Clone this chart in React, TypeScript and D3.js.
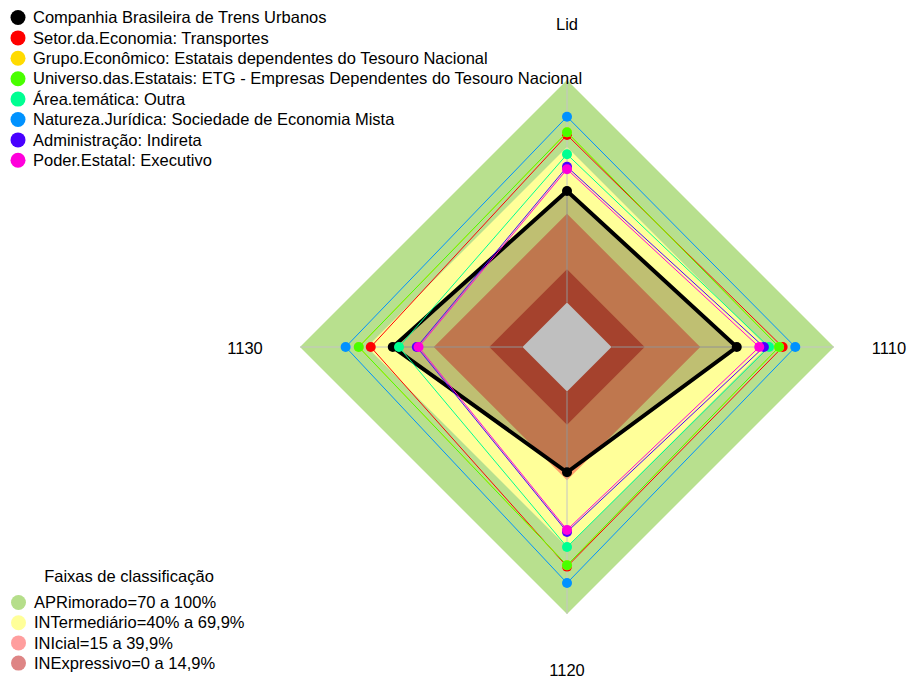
import * as d3 from 'd3';

const WIDTH = 911;
const HEIGHT = 680;
const CX = 567;
const CY = 347;
const RADIUS = 267;
const FONT = '"Liberation Sans", Arial, sans-serif';
const FS = 16.5;

// eixos do radar, sentido horário a partir do topo
const axes = ['Lid', '1110', '1120', '1130'];

const seriesNames = [
  'Companhia Brasileira de Trens Urbanos',
  'Setor.da.Economia: Transportes',
  'Grupo.Econômico: Estatais dependentes do Tesouro Nacional',
  'Universo.das.Estatais: ETG - Empresas Dependentes do Tesouro Nacional',
  'Área.temática: Outra',
  'Natureza.Jurídica: Sociedade de Economia Mista',
  'Administração: Indireta',
  'Poder.Estatal: Executivo',
];
const seriesColors = ['#000000', '#FF0000', '#FFDB00', '#49FF00', '#00FF92', '#0092FF', '#4900FF', '#FF00DB'];

// valores (%) por eixo: Lid, 1110, 1120, 1130
const cbtu = [50.1, 56.3, 36.3, 58.3];
const transportes = [75.3, 76.9, 78.7, 68.2];
const grupoEconomico = [76.5, 75.3, 78.1, 73.6];
const universoEstatais = [76.5, 75.3, 78.1, 73.6];
const areaTematica = [66.6, 70.8, 69.9, 55.5];
const naturezaJuridica = [83.5, 82.6, 86.1, 79.5];
const administracao = [61.0, 68.5, 63.1, 47.5];
const poderEstatal = [59.9, 66.4, 62.2, 46.7];
const seriesValues = [cbtu, transportes, grupoEconomico, universoEstatais, areaTematica, naturezaJuridica, administracao, poderEstatal];

// faixas de classificação
const bandLabels = ['APRimorado=70 a 100%', 'INTermediário=40% a 69,9%', 'INIcial=15 a 39,9%', 'INExpressivo=0 a 14,9%'];
const bandUpper = [100, 69.9, 39.9, 14.9];
const bandFill = ['#B8E08E', '#FFFF99', '#FF9F69', '#DC593C'];
const bandLegend = ['#B5DE8A', '#FFFF99', '#FF9E9E', '#DE8585'];

const r = d3.scaleLinear().domain([0, 100]).range([RADIUS / 6, RADIUS]);
const angle = d3.scaleLinear().domain([0, axes.length]).range([-Math.PI / 2, (3 * Math.PI) / 2]);

const pt = (i: number, v: number): [number, number] => [
  CX + r(v) * Math.cos(angle(i)),
  CY + r(v) * Math.sin(angle(i)),
];
const poly = d3.line().curve(d3.curveLinearClosed);
const ring = (v: number) => poly(axes.map((_, i) => pt(i, v))) as string;
const series = (vals: number[]) => poly(vals.map((v, i) => pt(i, v))) as string;

const labelPos = [
  { x: CX, y: 24 },
  { x: 889, y: 348 },
  { x: CX, y: 670 },
  { x: 245, y: 348 },
];

export default function App() {
  return (
    <svg
      width={WIDTH}
      height={HEIGHT}
      style={{ position: 'absolute', left: 0, top: 0, background: '#fff', display: 'block' }}
      fontFamily={FONT}
    >
      {bandUpper.map((u, i) => (
        <path key={'b' + i} d={ring(u)} fill={bandFill[i]} stroke="none" />
      ))}
      <path d={ring(0)} fill="#FFFFFF" stroke="none" />

      {axes.map((_, i) => {
        const [x1, y1] = pt(i, 0);
        const [x2, y2] = pt(i, 100);
        return <line key={'a' + i} x1={x1} y1={y1} x2={x2} y2={y2} stroke="#C4C4C4" strokeWidth={1} />;
      })}

      {/* área da empresa com sombreamento */}
      <path d={series(cbtu)} fill="rgba(0,0,0,0.25)" stroke="none" />

      {seriesValues.map((vals, s) => (
        <g key={'s' + s}>
          <path d={series(vals)} fill="none" stroke={seriesColors[s]} strokeWidth={s === 0 ? 4 : 1} strokeLinejoin="miter" />
          {vals.map((v, i) => {
            const [x, y] = pt(i, v);
            return <circle key={i} cx={x} cy={y} r={5} fill={seriesColors[s]} />;
          })}
        </g>
      ))}

      {axes.map((a, i) => (
        <text key={'l' + i} x={labelPos[i].x} y={labelPos[i].y} dy="0.35em" textAnchor="middle" fontSize={FS} fill="#000">
          {a}
        </text>
      ))}

      {seriesNames.map((n, i) => {
        const y = 17.5 + i * 20.4;
        return (
          <g key={'lg' + i}>
            <circle cx={18} cy={y} r={7.5} fill={seriesColors[i]} />
            <text x={33} y={y} dy="0.35em" fontSize={FS} fill="#000">{n}</text>
          </g>
        );
      })}

      <text x={129} y={576} dy="0.35em" textAnchor="middle" fontSize={FS} fill="#000">Faixas de classificação</text>
      {bandLabels.map((b, i) => {
        const y = 602.5 + i * 20.2;
        return (
          <g key={'bl' + i}>
            <circle cx={18.5} cy={y} r={7.5} fill={bandLegend[i]} />
            <text x={34} y={y} dy="0.35em" fontSize={FS} fill="#000">{b}</text>
          </g>
        );
      })}
    </svg>
  );
}
